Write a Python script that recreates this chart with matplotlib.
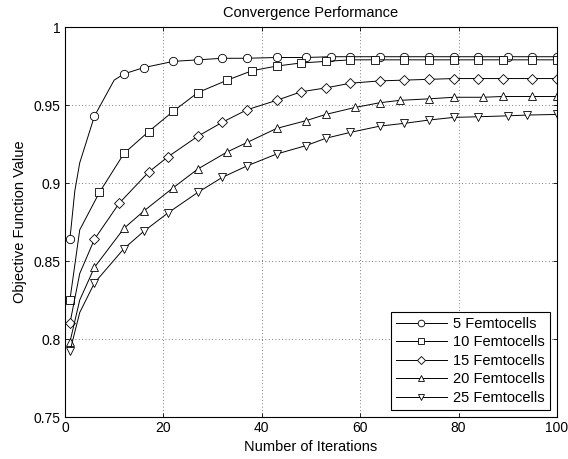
import matplotlib
matplotlib.use("Agg")
import matplotlib.pyplot as plt

plt.rcParams["font.family"] = ["Liberation Sans", "DejaVu Sans"]

# iterations and objective values
x_5 = [1, 2, 3, 6, 10, 12, 16, 22, 27, 32, 37, 43, 49, 54, 58, 64, 69, 74, 79, 84, 90, 95, 100]
y_5 = [0.864, 0.895, 0.913, 0.943, 0.966, 0.970, 0.974, 0.978, 0.979, 0.980, 0.980, 0.9805,
       0.9805, 0.981, 0.981, 0.981, 0.981, 0.981, 0.981, 0.981, 0.981, 0.981, 0.981]
m_5 = [0, 3, 5, 6, 7, 8, 9, 10, 11, 12, 13, 14, 15, 16, 17, 18, 19, 20, 21, 22]

x_10 = [1, 3, 7, 12, 17, 22, 27, 33, 38, 43, 48, 53, 58, 63, 69, 74, 79, 84, 89, 95, 100]
y_10 = [0.825, 0.870, 0.894, 0.919, 0.933, 0.946, 0.958, 0.966, 0.972, 0.975, 0.977, 0.978,
        0.979, 0.979, 0.979, 0.979, 0.979, 0.979, 0.979, 0.979, 0.979]
m_10 = [0] + list(range(2, 21))

x_15 = [1, 3, 6, 11, 17, 21, 27, 32, 37, 43, 48, 53, 58, 64, 69, 74, 79, 84, 89, 95, 100]
y_15 = [0.810, 0.842, 0.864, 0.887, 0.907, 0.917, 0.930, 0.939, 0.947, 0.953, 0.9585, 0.961,
        0.964, 0.9655, 0.966, 0.9665, 0.967, 0.967, 0.967, 0.967, 0.967]
m_15 = [0] + list(range(2, 21))

x_20 = [1, 3, 6, 12, 16, 22, 27, 33, 37, 43, 49, 53, 59, 64, 68, 74, 79, 85, 89, 95, 100]
y_20 = [0.798, 0.825, 0.846, 0.871, 0.882, 0.897, 0.909, 0.920, 0.926, 0.935, 0.940, 0.944,
        0.9485, 0.9515, 0.953, 0.954, 0.955, 0.955, 0.9555, 0.9555, 0.9555]
m_20 = [0] + list(range(2, 21))

x_25 = [1, 3, 6, 12, 16, 21, 27, 32, 37, 43, 49, 53, 58, 64, 69, 74, 79, 84, 90, 94, 100]
y_25 = [0.792, 0.817, 0.836, 0.858, 0.869, 0.881, 0.894, 0.9037, 0.911, 0.9186, 0.924, 0.9287,
        0.9325, 0.9365, 0.9383, 0.9404, 0.9421, 0.9425, 0.9431, 0.9436, 0.944]
m_25 = [0] + list(range(2, 21))

series = [
    (x_5, y_5, m_5, "o", "5 Femtocells"),
    (x_10, y_10, m_10, "s", "10 Femtocells"),
    (x_15, y_15, m_15, "D", "15 Femtocells"),
    (x_20, y_20, m_20, "^", "20 Femtocells"),
    (x_25, y_25, m_25, "v", "25 Femtocells"),
]

fig = plt.figure(figsize=(5.68, 4.59), dpi=100)
ax = fig.add_axes([0.1144, 0.0915, 0.8662, 0.8495])

for xs, ys, mk, marker, label in series:
    ms = 6.0 if marker != "D" else 5.0
    ax.plot(xs, ys, color="black", linewidth=0.7, marker=marker, markevery=mk,
            markersize=ms, markerfacecolor="white", markeredgecolor="black",
            markeredgewidth=0.6, label=label)

ax.set_xlim(0, 100)
ax.set_ylim(0.75, 1.0)
ax.set_xticks([0, 20, 40, 60, 80, 100])
ax.set_yticks([0.75, 0.8, 0.85, 0.9, 0.95, 1.0])
ax.set_yticklabels(["0.75", "0.8", "0.85", "0.9", "0.95", "1"])
ax.tick_params(direction="in", top=True, right=True, labelsize=10, length=3, width=0.6, pad=3)
ax.grid(True, linestyle=(0, (1, 3)), color="#555555", linewidth=0.6)
for sp in ax.spines.values():
    sp.set_linewidth(0.8)

ax.set_title("Convergence Performance", fontsize=10.5, pad=7)
ax.set_xlabel("Number of Iterations", fontsize=10.5, labelpad=3.5)
ax.set_ylabel("Objective Function Value", fontsize=10.5, labelpad=5)

leg = ax.legend(loc="lower right", fontsize=10.5, frameon=True, fancybox=False,
                edgecolor="black", framealpha=1, borderaxespad=0.5, markerscale=0.8,
                handlelength=3.5, handletextpad=0.4, labelspacing=0.3, borderpad=0.35)
leg.get_frame().set_linewidth(0.8)

fig.savefig("out.png", dpi=100)
